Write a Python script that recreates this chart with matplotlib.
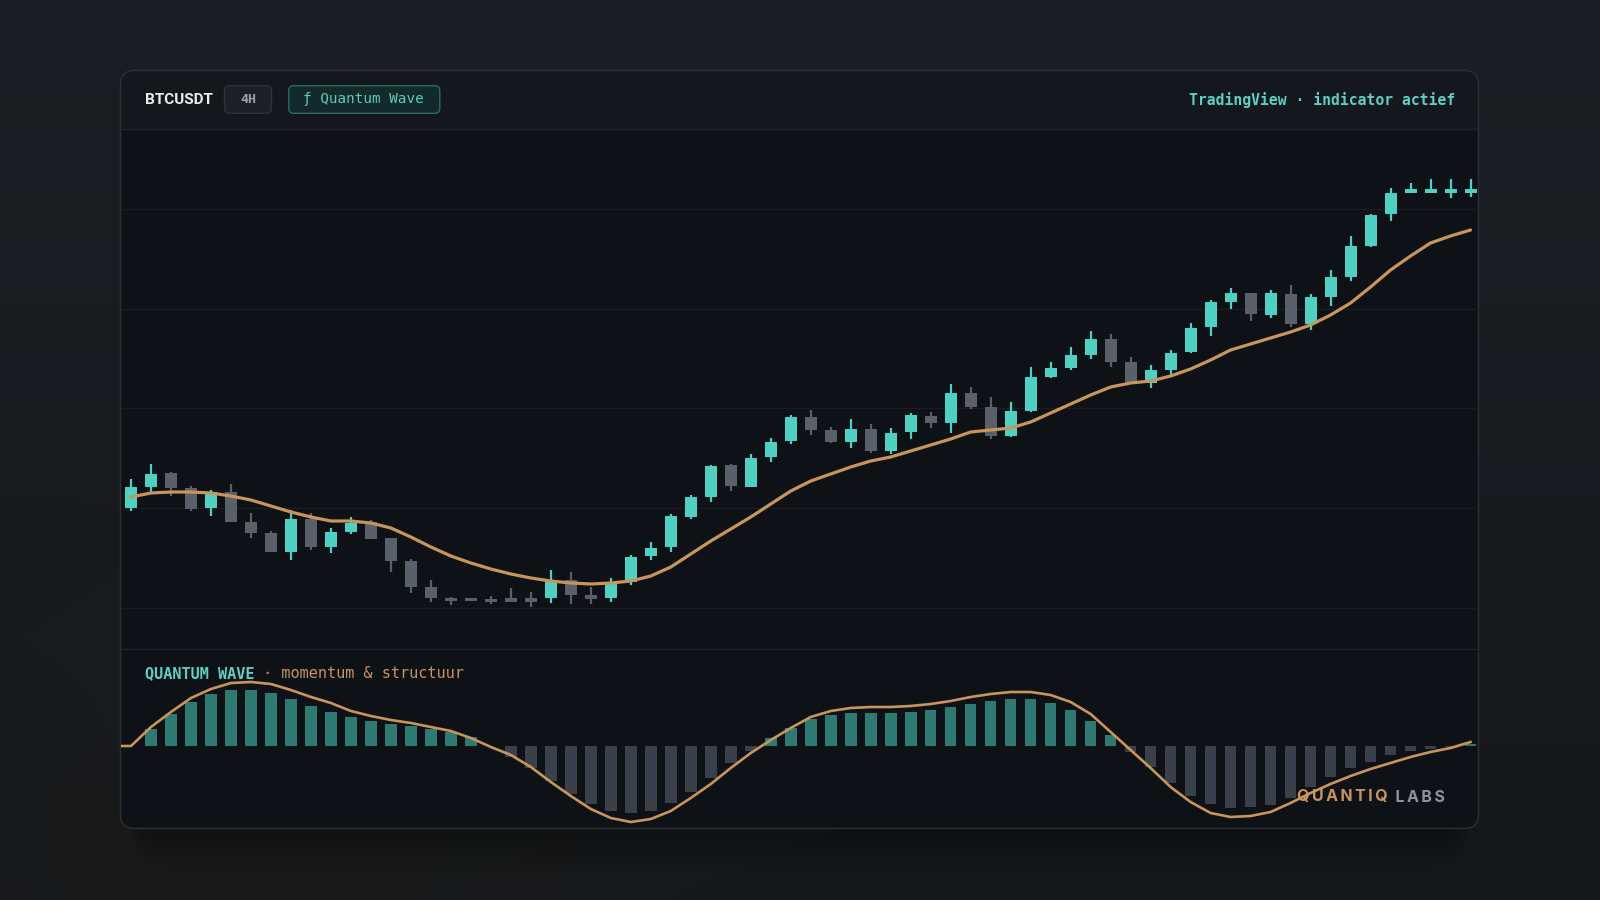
import numpy as np
import matplotlib.pyplot as plt
from matplotlib.patches import FancyBboxPatch, Rectangle

# ---- data (price in chart units) ----
opens = [192, 213, 227, 212, 192, 208, 178, 167, 148, 181, 153, 168, 178, 162, 139, 113, 102, 101.5,
         101, 102, 102, 102, 120, 105, 102, 118, 144, 153, 183, 203, 235, 213, 243, 259, 283, 270,
         258, 271, 249, 268, 284, 277, 307, 293, 264, 289, 323, 332, 345, 361, 338, 317, 330, 348,
         373, 398, 407, 385, 406, 376, 403, 423, 454, 486, 508, 508, 508, 508]
highs = [221, 236, 228, 214, 210, 216, 187, 169, 190, 187, 172, 183, 180, 162, 141, 120, 103, 102,
         104, 112, 108, 130, 128, 113, 122, 145, 158, 186, 205, 235, 236, 246, 262, 285, 290, 273,
         281, 276, 272, 287, 288, 316, 313, 303, 298, 333, 338, 353, 369, 366, 343, 335, 350, 377,
         400, 412, 407, 410, 415, 406, 430, 464, 486, 512, 517, 521, 521, 521]
lows = [189, 208, 204, 189, 184, 178, 162, 148, 140, 150, 147, 166, 161, 128, 107, 98, 95, 99,
        96, 98, 93, 97, 96, 96, 98, 115, 140, 148, 181, 198, 209, 213, 238, 256, 265, 257,
        252, 247, 246, 261, 272, 267, 291, 261, 263, 288, 322, 330, 341, 333, 317, 312, 323, 347,
        364, 391, 379, 382, 373, 370, 394, 419, 453, 479, 507, 507, 502, 503]
closes = [213, 226, 212, 191, 208, 178, 167, 148, 181, 153, 168, 177, 161, 139, 113, 102, 99, 99.5,
          98, 98, 98, 120, 105, 101, 118, 143, 152, 184, 203, 234, 214, 242, 258, 283, 270, 258,
          271, 249, 267, 285, 277, 307, 293, 264, 289, 323, 332, 345, 361, 338, 318, 330, 347, 372,
          398, 407, 386, 407, 376, 403, 423, 454, 485, 507, 510, 510, 510, 510]
ma = [203, 207, 208, 208, 207, 204, 200, 194, 188, 183, 179, 179, 177, 172, 163, 153, 144, 137,
      131, 126, 122, 119, 117, 116, 117, 119, 124, 133, 146, 159, 171, 183, 196, 209, 219, 226,
      233, 239, 243, 249, 255, 261, 268, 270, 272, 278, 287, 296, 305, 313, 317, 319, 324, 331,
      340, 350, 356, 362, 368, 375, 385, 397, 413, 430, 444, 457, 464, 470]
hist = [0, 17, 32, 44, 52, 56, 56, 53, 47, 40, 34, 29, 25, 22, 20, 17, 14, 9, 0,
        -11, -22, -35, -48, -58, -65, -67, -65, -57, -46, -32, -17, -5,
        8, 18, 27, 31, 33, 33, 33, 34, 36, 39, 42, 45, 47, 47, 43, 36, 25, 11,
        -6, -21, -37, -50, -58, -62, -61, -59, -52, -41, -31, -22, -16, -9, -5, -3, -1, 2]
osc = [0, 19, 34, 48, 57, 63, 64, 62, 56, 49, 43, 35, 30, 26, 23, 19, 15, 8, -1,
       -9, -21, -36, -50, -63, -72, -76, -73, -65, -52, -38, -22, -7,
       6, 18, 29, 35, 38, 39, 39, 40, 42, 45, 49, 52, 54, 54, 51, 44, 32, 14,
       -4, -22, -41, -56, -67, -71, -70, -66, -57, -47, -38, -30, -23, -17, -11, -6, -2, 4]
grid_levels = [92, 192, 292, 391, 491]

TEAL = '#4fd0c3'
GREY = '#5a606a'
TAN = '#c8955c'
BAR_UP = '#2e7a73'
BAR_DN = '#39404a'
MAIN_BG = '#0e1116'
HEAD_BG = '#14181d'
BORDER = '#2b3036'
SEP = '#1f242a'
MONO = 'DejaVu Sans Mono'

W, H = 1600, 900
fig = plt.figure(figsize=(16, 9), dpi=100)

# background in pixel coordinates
bg = fig.add_axes([0, 0, 1, 1], zorder=0)
bg.set_xlim(0, W)
bg.set_ylim(H, 0)
bg.axis('off')

yy, xx = np.mgrid[0:1:90j, 0:1:160j]
top = np.array([0x1b, 0x1f, 0x23]) / 255
bot = np.array([0x15, 0x17, 0x1a]) / 255
img = top[None, None, :] * (1 - yy[..., None]) + bot[None, None, :] * yy[..., None]
warm = np.exp(-((xx - 0.15) ** 2 + (yy - 1.0) ** 2) / 0.08)
img += warm[..., None] * np.array([0.018, 0.010, 0.0])
bg.imshow(img, extent=[0, W, H, 0], aspect='auto', interpolation='bicubic')

cx0, cy0, cw, ch = 120.5, 70.5, 1358, 758
head_bot, main_bot = 128.5, 649

# soft shadow mostly below the card
for k in range(8):
    g = 4 + k * 5
    bg.add_patch(FancyBboxPatch((cx0 + 20 - g * 0.3, cy0 + 30 + g * 0.5), cw - 40 + g * 0.6, ch - 30 + g * 0.6,
                                boxstyle='round,pad=0,rounding_size=%d' % (14 + g),
                                fc='black', ec='none', alpha=0.04))

bg.add_patch(FancyBboxPatch((cx0, cy0), cw, ch, boxstyle='round,pad=0,rounding_size=14',
                            fc=MAIN_BG, ec='none'))
bg.add_patch(FancyBboxPatch((cx0, cy0), cw, 70, boxstyle='round,pad=0,rounding_size=14',
                            fc=HEAD_BG, ec='none'))
bg.add_patch(Rectangle((cx0, head_bot), cw, 30, fc=MAIN_BG, ec='none'))
bg.plot([cx0, cx0 + cw], [head_bot, head_bot], color=SEP, lw=1)
bg.plot([cx0, cx0 + cw], [main_bot, main_bot], color=SEP, lw=1)
bg.add_patch(FancyBboxPatch((cx0, cy0), cw, ch, boxstyle='round,pad=0,rounding_size=14',
                            fc='none', ec=BORDER, lw=1.1))

# header
bg.text(145, 99.5, 'BTCUSDT', family='Roboto', weight='bold', fontsize=11, color='#e9edf0',
        va='center', ha='left')
bg.add_patch(FancyBboxPatch((224.5, 85.7), 47, 27.6, boxstyle='round,pad=0,rounding_size=5',
                            fc='#1c2026', ec='#2d333a', lw=1))
bg.text(248, 99.5, '4H', family=MONO, weight='bold', fontsize=9.5, color='#9aa2ab',
        va='center', ha='center')
bg.add_patch(FancyBboxPatch((288.8, 85.7), 151, 27.6, boxstyle='round,pad=0,rounding_size=5',
                            fc='#122a2b', ec='#2c6a65', lw=1))
bg.text(303, 99.5, 'ƒ Quantum Wave', family=MONO, fontsize=10.3, color='#5fc9bd',
        va='center', ha='left')
bg.text(1455, 99.5, 'TradingView · indicator actief', family=MONO, weight='bold', fontsize=10.6,
        color='#5fcfc3', va='center', ha='right')

# main price panel
idx = np.arange(len(opens))
o, hi, lo, c = map(np.array, (opens, highs, lows, closes))
up = c >= o
cols = np.where(up, TEAL, GREY)

ax = fig.add_axes([cx0 / W, (H - main_bot) / H, cw / W, (main_bot - head_bot) / H], zorder=2)
ax.set_facecolor('none')
ax.set_xlim(-0.525, 67.4)
ax.set_ylim(51, 571.5)
for lv in grid_levels:
    ax.axhline(lv, color='#191d23', lw=1, zorder=0)
ax.vlines(idx, lo, hi, colors=cols, lw=1.6, zorder=2)
body_h = np.maximum(np.abs(c - o), 3.5)
body_lo = np.where(np.abs(c - o) < 3.5, (o + c) / 2 - 1.75, np.minimum(o, c))
ax.bar(idx, body_h, bottom=body_lo, width=0.6, color=cols, zorder=3)
ax.plot(idx, ma, color=TAN, lw=2.3, zorder=4, solid_capstyle='round')
ax.axis('off')

# oscillator panel
ax2 = fig.add_axes([cx0 / W, (H - 828.5) / H, cw / W, (828.5 - main_bot) / H], zorder=2)
ax2.set_facecolor('none')
ax2.set_xlim(-0.525, 67.4)
ax2.set_ylim(-82.5, 97)
hv = np.array(hist)
ax2.bar(idx, hv, width=0.58, color=np.where(hv >= 0, BAR_UP, BAR_DN), zorder=2)
x_left = ax2.get_xlim()[0]
ax2.plot(np.r_[x_left, idx], np.r_[osc[0], osc], color=TAN, lw=1.9, zorder=3)
ax2.axis('off')

t1 = bg.text(145, 673.5, 'QUANTUM WAVE', family=MONO, weight='bold', fontsize=11,
             color='#5fcfc3', va='center', ha='left', zorder=5)
bg.annotate(' · momentum & structuur', xy=(1, 0.5), xycoords=t1, va='center', ha='left',
            family=MONO, fontsize=11, color=TAN, zorder=5)

# watermark
w1 = fig.text(1297 / W, 1 - 797 / H, '\u2009'.join('QUANTIQ'), family='Inter', weight='bold',
              fontsize=11.5, color=TAN, va='center', ha='left', zorder=10)
fig.add_artist(plt.Annotation('  ' + '\u2009'.join('LABS'), xy=(1, 0.5), xycoords=w1,
                              va='center', ha='left', family='Inter', weight='bold',
                              fontsize=11.5, color='#8e949c', zorder=10))

fig.savefig('out.png', dpi=100, facecolor='#171a1e')
